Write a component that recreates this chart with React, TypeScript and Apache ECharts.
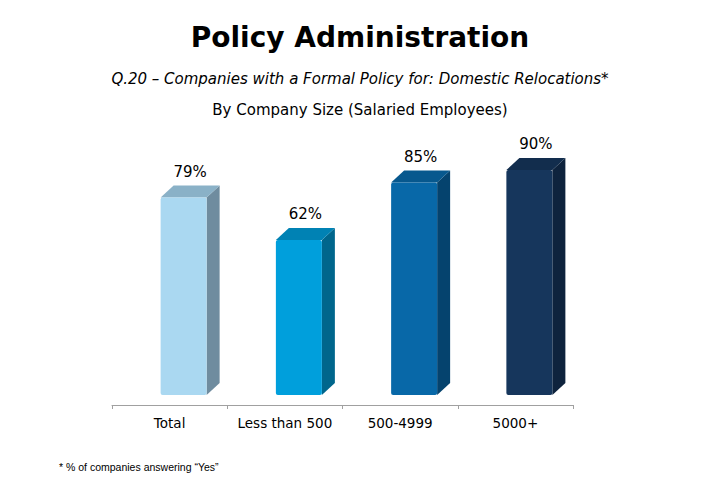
import React, { useEffect, useRef } from "react";
import * as echarts from "echarts";

const categories = ["Total", "Less than 500", "500-4999", "5000+"];
const values = [79, 62, 85, 90];
const frontColors = ["#AAD8F1", "#009FDC", "#0868A8", "#16365C"];
const sideColors = ["#6F8C9F", "#00668C", "#05436E", "#0E233D"];
const topColors = ["#8AB1C7", "#0082B4", "#07588E", "#122D4D"];

export default function App() {
  const ref = useRef<HTMLDivElement>(null);
  useEffect(() => {
    const chart = echarts.init(ref.current!, null, { renderer: "svg" });
    const font = "'DejaVu Sans', Verdana, sans-serif";
    chart.setOption({
      animation: false,
      backgroundColor: "#ffffff",
      title: [
        {
          text: "Policy Administration",
          left: "center",
          top: 18,
          textStyle: { fontFamily: font, fontSize: 28, fontWeight: "bold", color: "#000" },
        },
        {
          text: "Q.20 – Companies with a Formal Policy for: Domestic Relocations*",
          left: "center",
          top: 66,
          textStyle: { fontFamily: font, fontSize: 15, fontStyle: "italic", fontWeight: "normal", color: "#000" },
        },
        {
          text: "By Company Size (Salaried Employees)",
          left: "center",
          top: 97,
          textStyle: { fontFamily: font, fontSize: 15, fontWeight: "normal", color: "#000" },
        },
        {
          text: "* % of companies answering “Yes”",
          left: 54,
          top: 456,
          textStyle: { fontFamily: "'Liberation Sans', Arial, sans-serif", fontSize: 10.5, fontWeight: "normal", color: "#000" },
        },
      ],
      grid: { left: 112, right: 147, top: 145, bottom: 84 },
      xAxis: {
        type: "category",
        data: categories,
        offset: 10,
        axisLine: { onZero: false, lineStyle: { color: "#A0A0A0", width: 1 } },
        axisTick: { show: true, interval: 0, length: 4, lineStyle: { color: "#A0A0A0" } },
        axisLabel: { interval: 0, color: "#000", fontFamily: font, fontSize: 13.5, margin: 11 },
      },
      yAxis: { type: "value", min: 0, max: 100, show: false, splitLine: { show: false } },
      series: [
        {
          type: "custom",
          data: values.map((v, i) => [i, v]),
          encode: { x: 0, y: 1 },
          renderItem: (params: any, api: any) => {
            const idx = api.value(0);
            const v = api.value(1);
            const base = api.coord([idx, 0]);
            const top = api.coord([idx, v]);
            const cx = base[0] + 14;
            const w = 46;
            const dx = 13;
            const dy = 12;
            const x0 = cx - w / 2;
            const x1 = cx + w / 2;
            const yB = base[1];
            const yT = top[1];
            return {
              type: "group",
              children: [
                {
                  type: "polygon",
                  shape: { points: [[x1, yT], [x1 + dx, yT - dy], [x1 + dx, yB - dy], [x1, yB]] },
                  style: { fill: sideColors[idx] },
                },
                {
                  type: "polygon",
                  shape: { points: [[x0, yT], [x0 + dx, yT - dy], [x1 + dx, yT - dy], [x1, yT]] },
                  style: { fill: topColors[idx] },
                },
                {
                  type: "rect",
                  shape: { x: x0, y: yT, width: w, height: yB - yT, r: 2 },
                  style: { fill: frontColors[idx] },
                },
                {
                  type: "text",
                  style: {
                    x: cx + dx / 2,
                    y: yT - 26,
                    text: v + "%",
                    fill: "#000",
                    font: "15px 'DejaVu Sans', Verdana, sans-serif",
                    align: "center",
                    verticalAlign: "middle",
                  },
                },
              ],
            };
          },
        },
      ],
    });
    return () => chart.dispose();
  }, []);
  return <div ref={ref} style={{ width: 720, height: 479, position: "absolute", left: 0, top: 0 }} />;
}
